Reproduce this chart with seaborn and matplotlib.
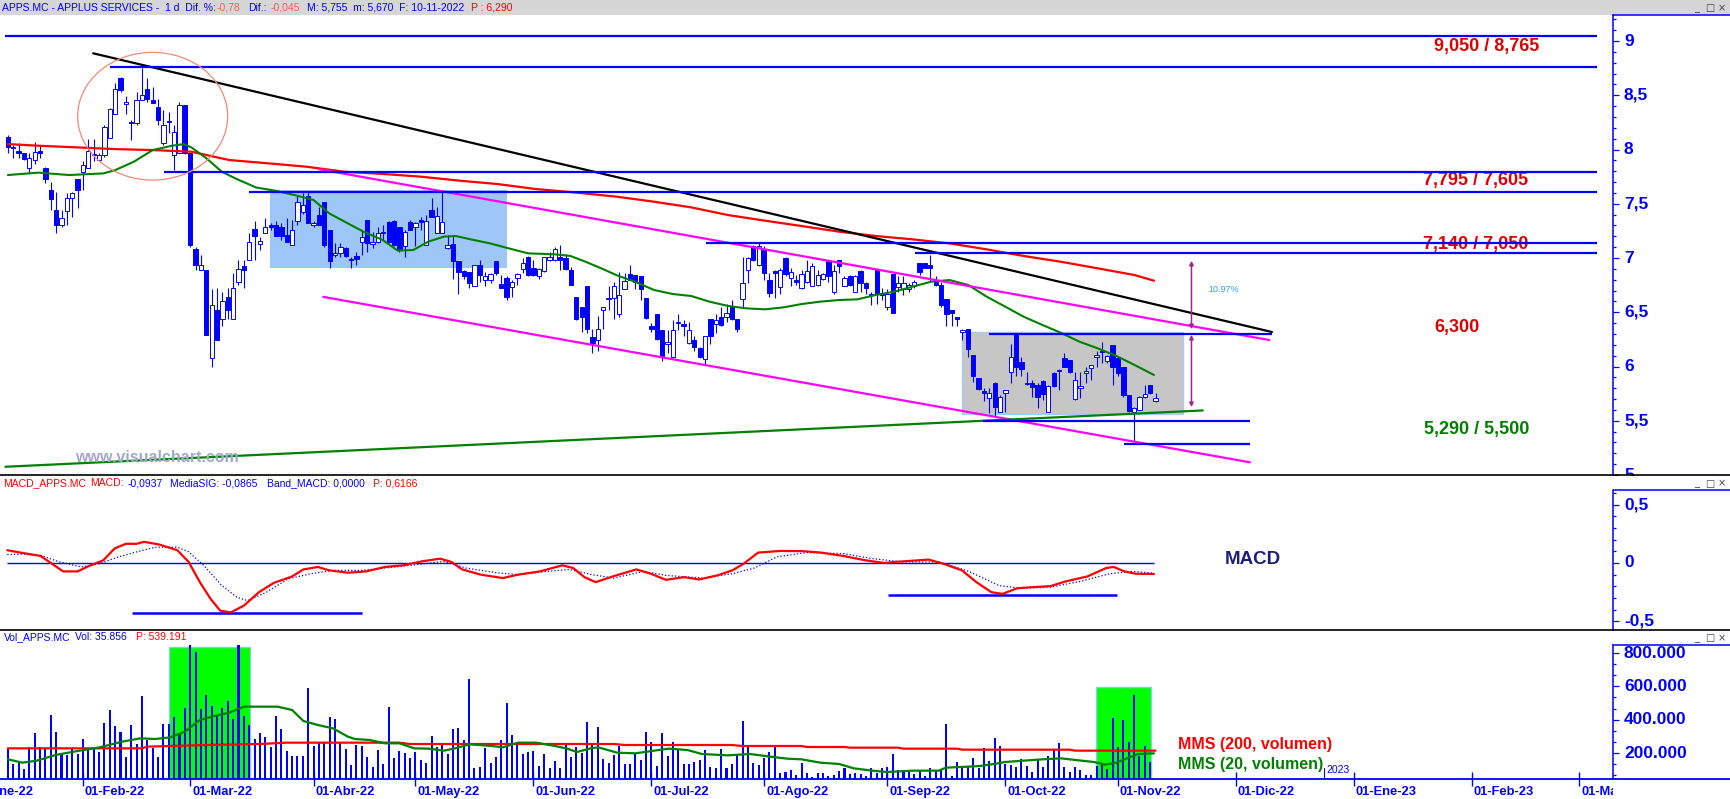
import numpy as np
import pandas as pd
import matplotlib
matplotlib.use("Agg")
import matplotlib.pyplot as plt
from matplotlib.patches import Rectangle, Ellipse
from matplotlib.lines import Line2D
from matplotlib.ticker import MultipleLocator
import seaborn as sns

sns.set_theme(style="white")
plt.rcParams['font.family'] = ['Liberation Sans', 'DejaVu Sans']

# ---------------- DATA ----------------
opens = [8.12, 8.02, 7.99, 7.97, 7.83, 7.90, 7.99, 7.83, 7.63, 7.44,
         7.30, 7.43, 7.55, 7.73, 7.79, 7.83, 7.96, 7.90, 7.95, 8.11,
         8.33, 8.66, 8.42, 8.25, 8.24, 8.46, 8.56, 8.46, 8.39, 8.06,
         8.25, 7.95, 7.97, 8.41, 7.97, 7.08, 6.89, 6.89, 6.08, 6.52,
         6.44, 6.64, 6.44, 6.78, 6.93, 6.98, 7.27, 7.13, 7.23, 7.30,
         7.30, 7.29, 7.21, 7.12, 7.34, 7.42, 7.57, 7.30, 7.40, 7.52,
         7.26, 7.03, 7.05, 7.09, 6.99, 7.02, 7.15, 7.35, 7.13, 7.15,
         7.23, 7.33, 7.34, 7.29, 7.11, 7.33, 7.29, 7.35, 7.12, 7.44,
         7.23, 7.23, 7.09, 7.13, 6.97, 6.88, 6.87, 6.74, 6.94, 6.80,
         6.80, 6.97, 6.76, 6.82, 6.73, 6.82, 6.90, 7.01, 6.91, 6.83,
         6.88, 6.98, 6.98, 7.01, 7.00, 6.89, 6.64, 6.55, 6.74, 6.27,
         6.24, 6.52, 6.62, 6.63, 6.48, 6.71, 6.85, 6.84, 6.83, 6.63,
         6.37, 6.48, 6.34, 6.21, 6.09, 6.40, 6.39, 6.22, 6.24, 6.17,
         6.07, 6.44, 6.39, 6.46, 6.46, 6.56, 6.44, 6.62, 6.89, 7.11,
         6.94, 7.07, 6.80, 6.88, 6.73, 7.00, 6.82, 6.80, 6.72, 6.78,
         6.74, 6.75, 6.81, 6.97, 6.69, 6.98, 6.74, 6.83, 6.69, 6.88,
         6.77, 6.66, 6.89, 6.67, 6.55, 6.85, 6.73, 6.71, 6.71, 6.74,
         6.95, 6.95, 6.94, 6.78, 6.75, 6.62, 6.52, 6.45, 6.32, 6.35,
         6.11, 5.89, 5.77, 5.71, 5.85, 5.58, 5.76, 5.95, 6.30, 6.04,
         5.84, 5.85, 5.83, 5.87, 5.58, 5.94, 5.96, 6.08, 6.06, 5.70,
         5.80, 5.94, 5.99, 6.09, 6.14, 6.05, 6.20, 6.08, 6.00, 5.74,
         5.58, 5.60, 5.72, 5.83, 5.68]
highs = [8.13, 8.04, 8.06, 7.97, 7.97, 8.07, 8.04, 7.84, 7.70, 7.61,
         7.44, 7.60, 7.61, 7.73, 7.89, 8.10, 8.10, 7.97, 8.23, 8.38,
         8.61, 8.67, 8.49, 8.27, 8.53, 8.75, 8.66, 8.58, 8.47, 8.36,
         8.35, 8.23, 8.44, 8.41, 7.97, 7.10, 7.03, 6.89, 6.71, 6.72,
         6.69, 6.72, 6.86, 6.98, 6.98, 7.23, 7.34, 7.19, 7.37, 7.32,
         7.34, 7.32, 7.37, 7.35, 7.57, 7.60, 7.61, 7.34, 7.47, 7.52,
         7.26, 7.14, 7.14, 7.10, 7.01, 7.06, 7.26, 7.35, 7.24, 7.29,
         7.30, 7.34, 7.35, 7.29, 7.26, 7.35, 7.33, 7.38, 7.40, 7.55,
         7.47, 7.61, 7.21, 7.21, 6.97, 6.89, 6.87, 6.94, 6.98, 6.87,
         6.86, 6.97, 6.84, 6.83, 6.80, 6.86, 7.00, 7.02, 6.98, 6.91,
         7.01, 7.06, 7.10, 7.12, 7.04, 6.92, 6.64, 6.55, 6.74, 6.35,
         6.47, 6.55, 6.74, 6.78, 6.87, 6.86, 6.94, 6.84, 6.83, 6.63,
         6.40, 6.48, 6.34, 6.34, 6.43, 6.48, 6.43, 6.41, 6.28, 6.18,
         6.28, 6.44, 6.48, 6.55, 6.58, 6.61, 6.44, 7.01, 7.01, 7.12,
         7.14, 7.11, 6.86, 6.89, 6.91, 7.01, 6.91, 6.84, 6.89, 6.98,
         6.95, 6.89, 6.86, 6.98, 6.94, 6.98, 6.83, 6.84, 6.84, 6.89,
         6.78, 6.69, 6.89, 6.72, 6.71, 6.86, 6.83, 6.83, 6.77, 6.80,
         6.95, 6.95, 7.03, 6.83, 6.78, 6.62, 6.52, 6.46, 6.35, 6.35,
         6.11, 5.89, 5.80, 5.80, 5.86, 5.74, 5.78, 6.21, 6.30, 6.09,
         5.95, 5.88, 5.85, 5.88, 5.83, 5.95, 5.98, 6.12, 6.06, 5.95,
         5.95, 6.00, 6.01, 6.14, 6.23, 6.11, 6.20, 6.09, 6.00, 5.74,
         5.63, 5.73, 5.83, 5.83, 5.755]
lows = [7.97, 7.92, 7.92, 7.90, 7.78, 7.87, 7.92, 7.69, 7.44, 7.23,
        7.29, 7.30, 7.38, 7.46, 7.63, 7.83, 7.89, 7.90, 7.93, 8.11,
        8.33, 8.53, 8.33, 8.09, 8.23, 8.46, 8.44, 8.43, 8.23, 8.04,
        8.15, 7.81, 7.97, 7.96, 7.10, 6.89, 6.89, 6.29, 6.00, 6.24,
        6.37, 6.44, 6.44, 6.75, 6.72, 6.98, 6.98, 7.07, 7.23, 7.26,
        7.20, 7.17, 7.15, 7.12, 7.30, 7.41, 7.32, 7.29, 7.30, 7.10,
        6.91, 7.01, 7.01, 7.01, 6.91, 6.94, 7.03, 7.06, 7.09, 7.14,
        7.17, 7.14, 7.11, 7.06, 7.01, 7.26, 7.11, 7.26, 7.12, 7.38,
        7.23, 7.23, 7.08, 6.81, 6.67, 6.81, 6.72, 6.74, 6.78, 6.74,
        6.77, 6.84, 6.72, 6.61, 6.64, 6.75, 6.86, 6.83, 6.83, 6.81,
        6.87, 6.97, 6.97, 6.89, 6.89, 6.75, 6.43, 6.32, 6.31, 6.12,
        6.14, 6.35, 6.52, 6.44, 6.46, 6.71, 6.80, 6.71, 6.61, 6.44,
        6.32, 6.24, 6.05, 6.12, 6.08, 6.34, 6.28, 6.21, 6.14, 6.08,
        6.01, 6.21, 6.31, 6.37, 6.41, 6.43, 6.32, 6.54, 6.77, 6.97,
        6.93, 6.80, 6.64, 6.63, 6.67, 6.83, 6.74, 6.75, 6.71, 6.77,
        6.74, 6.74, 6.80, 6.78, 6.67, 6.86, 6.74, 6.74, 6.69, 6.69,
        6.67, 6.57, 6.58, 6.61, 6.52, 6.49, 6.69, 6.66, 6.69, 6.72,
        6.84, 6.91, 6.78, 6.74, 6.55, 6.37, 6.37, 6.37, 6.24, 6.09,
        5.86, 5.78, 5.68, 5.57, 5.54, 5.58, 5.58, 5.85, 5.91, 5.91,
        5.83, 5.72, 5.62, 5.69, 5.58, 5.81, 5.78, 6.00, 5.94, 5.69,
        5.71, 5.85, 5.88, 6.00, 6.03, 6.03, 5.83, 5.91, 5.72, 5.58,
        5.31, 5.60, 5.71, 5.75, 5.67]
closes = [8.02, 8.01, 7.97, 7.91, 7.92, 7.98, 7.97, 7.73, 7.54, 7.30,
          7.37, 7.55, 7.60, 7.63, 7.86, 7.99, 7.95, 7.95, 8.21, 8.37,
          8.56, 8.55, 8.44, 8.24, 8.46, 8.50, 8.47, 8.43, 8.27, 8.23,
          8.26, 8.16, 8.41, 7.97, 7.12, 6.94, 6.94, 6.29, 6.57, 6.24,
          6.60, 6.52, 6.72, 6.90, 6.89, 7.15, 7.20, 7.16, 7.29, 7.29,
          7.20, 7.20, 7.15, 7.26, 7.52, 7.49, 7.32, 7.32, 7.30, 7.12,
          6.97, 7.05, 7.10, 7.02, 6.98, 6.99, 7.19, 7.14, 7.15, 7.23,
          7.24, 7.15, 7.12, 7.07, 7.24, 7.26, 7.32, 7.33, 7.34, 7.38,
          7.39, 7.33, 7.12, 6.97, 6.87, 6.83, 6.77, 6.94, 6.84, 6.83,
          6.85, 6.86, 6.72, 6.64, 6.78, 6.85, 6.95, 6.84, 6.84, 6.90,
          7.01, 7.01, 7.08, 6.98, 6.90, 6.75, 6.44, 6.46, 6.35, 6.22,
          6.35, 6.55, 6.63, 6.74, 6.66, 6.79, 6.80, 6.78, 6.71, 6.45,
          6.35, 6.25, 6.09, 6.22, 6.34, 6.41, 6.37, 6.34, 6.18, 6.09,
          6.28, 6.28, 6.43, 6.38, 6.49, 6.44, 6.35, 6.77, 7.00, 6.98,
          7.11, 6.86, 6.68, 6.86, 6.89, 6.85, 6.87, 6.78, 6.85, 6.88,
          6.93, 6.84, 6.85, 6.83, 6.88, 6.93, 6.82, 6.75, 6.83, 6.77,
          6.72, 6.66, 6.67, 6.66, 6.67, 6.49, 6.77, 6.77, 6.75, 6.78,
          6.87, 6.91, 6.91, 6.75, 6.57, 6.48, 6.49, 6.44, 6.34, 6.16,
          5.91, 5.79, 5.76, 5.76, 5.63, 5.72, 5.78, 6.09, 6.00, 5.98,
          5.84, 5.81, 5.72, 5.75, 5.82, 5.82, 5.97, 6.00, 5.95, 5.88,
          5.82, 5.96, 6.01, 6.10, 6.13, 6.10, 6.00, 5.94, 5.74, 5.59,
          5.62, 5.72, 5.75, 5.755, 5.71]
# daily volume, thousands of shares
vol_k = [222, 134, 138, 102, 234, 318, 234, 228, 428, 326,
         198, 188, 228, 194, 284, 218, 228, 208, 378, 458,
         362, 328, 178, 368, 254, 542, 278, 228, 174, 372,
         372, 414, 318, 468, 870, 808, 462, 548, 482, 422,
         468, 512, 402, 870, 422, 368, 284, 318, 298, 238,
         422, 342, 214, 182, 182, 182, 588, 242, 258, 258,
         414, 402, 258, 222, 128, 248, 242, 178, 118, 218,
         134, 474, 168, 214, 198, 168, 208, 158, 138, 302,
         234, 248, 194, 342, 348, 278, 642, 112, 118, 232,
         138, 174, 278, 498, 308, 248, 194, 208, 214, 122,
         194, 108, 152, 108, 254, 178, 234, 202, 386, 248,
         354, 164, 138, 188, 242, 134, 134, 194, 158, 326,
         266, 122, 320, 182, 266, 218, 134, 134, 146, 158,
         218, 114, 110, 224, 110, 134, 192, 392, 242, 140,
         128, 170, 206, 238, 80, 86, 98, 68, 140, 80,
         56, 80, 80, 62, 68, 92, 110, 74, 80, 74,
         62, 110, 80, 110, 116, 194, 98, 98, 98, 74,
         92, 62, 110, 92, 98, 374, 62, 146, 122, 116,
         170, 110, 230, 152, 290, 242, 134, 128, 116, 164,
         122, 86, 164, 116, 182, 218, 260, 116, 86, 116,
         98, 68, 68, 122, 128, 104, 410, 236, 398, 266,
         548, 182, 242, 146, 35.856]

# moving averages (x = trading-day index)
ma20_idx = [0, 5.7, 11.4, 17.8, 20, 23.5, 27, 30.6, 32.8, 34.2, 37, 39.9, 42.8, 46.3, 49.9, 53.5,
            57, 59.9, 62.8, 66.3, 69.9, 72.7, 75.6, 78.4, 81.3, 83.5, 86.3, 89.9, 93.4, 97, 102,
            104.9, 107.7, 110.4, 113.6, 117, 120.5, 124, 127.4, 130.8, 134.3, 137.7, 141.2, 144.6,
            148.05, 151.5, 155, 158.4, 161.8, 165.3, 168.7, 172.2, 175.6, 179.1, 182.5, 186, 189.4,
            192.9, 196.3, 199.8, 203.2, 206.7, 210.1, 213.7]
ma20_val = [7.765, 7.787, 7.765, 7.78, 7.81, 7.888, 7.995, 8.035, 8.05, 8.02, 7.92, 7.795, 7.725,
            7.65, 7.62, 7.58, 7.535, 7.412, 7.335, 7.243, 7.166, 7.068, 7.074, 7.151, 7.197, 7.203,
            7.172, 7.135, 7.089, 7.043, 7.034, 7.019, 6.966, 6.91, 6.84, 6.78, 6.705, 6.668, 6.65,
            6.598, 6.558, 6.536, 6.527, 6.545, 6.576, 6.598, 6.613, 6.619, 6.659, 6.69, 6.736, 6.782,
            6.797, 6.751, 6.644, 6.551, 6.459, 6.383, 6.312, 6.229, 6.168, 6.097, 6.014, 5.922]
ma200_idx = [0, 5.7, 12.8, 20, 27, 34.2, 41.3, 48.5, 55.6, 62.8, 69.9, 77, 84.2, 91.3, 98.4, 105.6,
             113.6, 120.5, 127.4, 134.3, 141.2, 148, 155, 161.8, 168.7, 175.6, 182.5, 189.4, 196.3,
             203.2, 210.1, 213.7]
ma200_val = [8.05, 8.035, 8.02, 8.004, 7.995, 7.98, 7.903, 7.873, 7.842, 7.795, 7.775, 7.75, 7.713,
             7.682, 7.636, 7.605, 7.565, 7.519, 7.467, 7.396, 7.344, 7.295, 7.243, 7.203, 7.172,
             7.135, 7.08, 7.019, 6.966, 6.905, 6.843, 6.791]

macd_idx = [-0.1, 2.7, 6.1, 8.2, 10.3, 13.0, 15.1, 17.8, 19.9, 22.0, 24.0, 25.4, 28.2, 31.6, 33.7,
            35.8, 37.8, 39.6, 41.6, 44.0, 46.8, 49.6, 53.0, 55.1, 57.8, 59.9, 63.4, 66.8, 70.3, 73.7,
            77.2, 80.6, 82.7, 84.7, 88.2, 92.3, 95.1, 99.2, 103.4, 105.4, 107.5, 109.6, 113.0, 117.2,
            119.9, 122.7, 126.1, 128.9, 132.3, 135.1, 137.2, 139.9, 144.1, 148.2, 151.6, 155.8, 159.9,
            163.4, 165.4, 171.7, 174.4, 177.9, 180.6, 183.4, 185.5, 188.2, 191.0, 194.4, 197.2, 201.3,
            204.8, 206.2, 208.2, 210.3, 213.7]
macd_val = [0.109, 0.086, 0.06, -0.006, -0.072, -0.072, -0.026, 0.023, 0.124, 0.164, 0.164, 0.181,
            0.158, 0.109, 0.009, -0.164, -0.307, -0.408, -0.422, -0.365, -0.25, -0.17, -0.115,
            -0.055, -0.034, -0.063, -0.083, -0.072, -0.034, -0.02, 0.014, 0.037, 0.009, -0.055, -0.1,
            -0.129, -0.1, -0.072, -0.02, -0.043, -0.121, -0.164, -0.112, -0.055, -0.092, -0.144,
            -0.121, -0.141, -0.106, -0.063, -0.006, 0.089, 0.103, 0.101, 0.089, 0.06, 0.023, 0.0,
            0.009, 0.029, -0.006, -0.063, -0.164, -0.25, -0.264, -0.216, -0.207, -0.198, -0.158,
            -0.115, -0.043, -0.034, -0.072, -0.092, -0.094]
sig_idx = [-0.1, 2.7, 6.1, 9.6, 13.7, 17.1, 20.6, 24.0, 27.5, 31.6, 33.7, 36.5, 39.9, 42.7, 44.7,
           48.2, 52.3, 56.5, 60.6, 66.1, 70.3, 75.1, 81.3, 85.4, 91.0, 95.1, 100.6, 104.7, 108.9,
           113.0, 118.5, 122.7, 129.6, 135.1, 139.2, 143.4, 148.9, 155.8, 161.3, 166.8, 173.7, 179.2,
           184.8, 188.9, 194.4, 199.9, 205.4, 209.6, 213.7]
sig_val = [0.072, 0.075, 0.066, 0.009, -0.034, -0.006, 0.052, 0.095, 0.135, 0.135, 0.095, -0.02,
           -0.193, -0.293, -0.322, -0.25, -0.135, -0.092, -0.063, -0.063, -0.043, -0.02, 0.014,
           -0.043, -0.083, -0.1, -0.072, -0.055, -0.1, -0.129, -0.072, -0.106, -0.129, -0.092,
           -0.043, 0.052, 0.089, 0.08, 0.037, 0.009, 0.009, -0.072, -0.193, -0.216, -0.207, -0.158,
           -0.092, -0.072, -0.0865]

vma20_idx = [0.0, 2.7, 5.4, 8.9, 12.3, 17.1, 21.3, 24.7, 27.5, 30.3, 33.0, 35.8, 38.5, 41.3, 44.0,
             50.3, 53.0, 55.1, 57.8, 60.6, 63.4, 64.7, 67.5, 70.3, 73.0, 75.8, 78.5, 81.3, 83.4, 86.1,
             90.3, 92.3, 95.1, 98.5, 102.0, 104.1, 106.1, 108.7, 110.1, 113.6, 117.0, 120.5, 123.2,
             126.7, 129.4, 134.2, 138.4, 141.2, 145.3, 148.0, 151.5, 155.0, 157.7, 161.2, 163.9,
             168.7, 173.6, 174.9, 179.1, 181.2, 183.9, 185.9, 189.4, 192.9, 196.3, 199.1, 202.5,
             204.6, 206.7, 208.7, 210.8, 213.7]
vma20_k = [162, 142, 154, 188, 208, 234, 268, 288, 284, 294, 328, 398, 422, 442, 478, 478, 458, 392,
           368, 348, 298, 284, 278, 258, 258, 228, 226, 214, 228, 252, 242, 234, 262, 262, 242, 228,
           206, 228, 234, 202, 198, 214, 226, 218, 194, 186, 194, 182, 166, 162, 142, 134, 108, 94,
           86, 94, 94, 112, 118, 122, 134, 146, 154, 162, 168, 158, 146, 130, 142, 168, 194, 198]
vma200_idx = [0, 25, 26, 37, 47, 52, 73, 75, 113, 115, 135, 137, 148, 149, 156, 157, 166, 167, 177,
              178, 198, 199, 214]
vma200_k = [228, 228, 238, 248, 254, 262, 262, 254, 254, 248, 248, 242, 242, 236, 236, 232, 232,
            226, 226, 220, 220, 214, 214]

# drawn objects (x = trading-day index, y = price)
hlevels = [9.05, 8.765, 7.795, 7.605, 7.14, 7.05, 6.30, 5.50, 5.29]
hstart = [-0.5, 19.0, 29.1, 45.0, 130.2, 169.1, 183.0, 181.8, 208.1]
hend = [296.4, 296.4, 296.4, 296.4, 296.4, 296.4, 235.7, 231.6, 231.6]
trend_black = ([15.9, 235.7], [8.887, 6.318])
chan_upper = ([58.1, 235.2], [7.818, 6.244])
chan_lower = ([58.8, 231.6], [6.642, 5.117])
trend_green = ([-0.45, 222.8], [5.076, 5.595])
level_labels = ["9,050 / 8,765", "7,795 / 7,605", "7,140 / 7,050", "6,300", "5,290 / 5,500"]
level_label_y = [8.954, 7.719, 7.120, 6.364, 5.415]
level_label_colors = ["#E00000", "#E00000", "#E00000", "#E00000", "#008000"]

MONTHS_ES = ['Ene', 'Feb', 'Mar', 'Abr', 'May', 'Jun', 'Jul', 'Ago', 'Sep', 'Oct', 'Nov', 'Dic']

# ---------------- LAYOUT ----------------
W, H = 1730, 799
BLUE = '#0000FF'
fig = plt.figure(figsize=(W / 100, H / 100), dpi=100)
fig.patch.set_facecolor('white')


def fr(x0, y0, x1, y1):
    return [x0 / W, 1 - y1 / H, (x1 - x0) / W, (y1 - y0) / H]


def ftext(x, y, s, **kw):
    return fig.text(x / W, 1 - y / H, s, **kw)


def fline(x0, x1, y0, y1, **kw):
    fig.add_artist(Line2D([x0 / W, x1 / W], [1 - y0 / H, 1 - y1 / H],
                          transform=fig.transFigure, **kw))


ax_p = fig.add_axes(fr(0, 15, 1613, 475))
ax_m = fig.add_axes(fr(0, 490, 1613, 630))
ax_v = fig.add_axes(fr(0, 645, 1613, 779))
ax_d = fig.add_axes(fr(0, 779, 1613, 799))

XMIN, XMAX = -1.47, 299.3

# trading calendar (positions of month labels)
holidays = pd.to_datetime(['2022-04-15', '2022-04-18'])
days = pd.bdate_range('2022-01-03', '2023-03-31')
days = days[~days.isin(holidays)]
start = days.get_loc(pd.Timestamp('2022-01-12'))
dpos = np.arange(len(days)) - start
ddf = pd.DataFrame({'d': days, 'p': dpos})
firsts = ddf.groupby([ddf.d.dt.year, ddf.d.dt.month]).first()
month_pos = list(firsts.p.values)
month_lab = [f"01-{MONTHS_ES[d.month - 1]}-{d.strftime('%y')}" for d in firsts.d]

n = min(len(opens), len(highs), len(lows), len(closes))
o = np.array(opens[:n]); h = np.array(highs[:n]); l = np.array(lows[:n]); c = np.array(closes[:n])
x = np.arange(n)
up = c >= o


def style(ax):
    for s in ['top', 'left', 'bottom']:
        ax.spines[s].set_visible(False)
    ax.spines['right'].set_color(BLUE)
    ax.spines['right'].set_linewidth(1.1)
    ax.yaxis.tick_right()
    ax.tick_params(axis='y', which='major', direction='out', length=4.3, width=0.9,
                   colors=BLUE, labelright=False, labelleft=False, left=False)
    ax.tick_params(axis='y', which='minor', direction='out', length=2.2, width=0.9,
                   colors=BLUE, left=False)
    ax.set_facecolor('white')
    ax.grid(False)
    ax.set_xlabel('')
    ax.set_ylabel('')


def ylabels(ax, vals, fmt, fs=12.5):
    tr = ax.get_yaxis_transform()
    for v in vals:
        ax.text(1 + 11 / 1613, v, fmt(v), transform=tr, ha='left', va='center', color=BLUE,
                fontsize=fs, fontweight='bold', clip_on=False)


# ---------------- PRICE PANEL ----------------
ax_p.add_patch(Rectangle((48.9, 6.911), 44.2, 0.716, facecolor='#9EC6F6', edgecolor='none', zorder=1))
ax_p.add_patch(Rectangle((177.9, 5.562), 41.2, 0.756, facecolor='#C6C6C6', edgecolor='#A8CCEE',
                         lw=1, zorder=1))
ax_p.vlines(x, l, h, color=BLUE, lw=0.8, zorder=3)
ax_p.bar(x, np.maximum(np.abs(c - o), 0.012), bottom=np.minimum(o, c), width=0.8,
         color=np.where(up, 'white', BLUE), edgecolor=BLUE, linewidth=0.7, zorder=4)

sns.lineplot(x=ma200_idx, y=ma200_val, ax=ax_p, color='#FF0000', linewidth=1.6, zorder=5)
sns.lineplot(x=ma20_idx, y=ma20_val, ax=ax_p, color='#008000', linewidth=1.5, zorder=5)
for xs, ys, col in [(trend_black[0], trend_black[1], 'black'),
                    (chan_upper[0], chan_upper[1], '#FF00FF'),
                    (chan_lower[0], chan_lower[1], '#FF00FF'),
                    (trend_green[0], trend_green[1], '#008000')]:
    sns.lineplot(x=xs, y=ys, ax=ax_p, color=col, linewidth=1.6, zorder=5)
ax_p.hlines(hlevels, hstart, hend, color=BLUE, lw=1.6, zorder=6)

ax_p.add_patch(Ellipse((27.0, 8.307), 27.97, 1.177, facecolor='none', edgecolor='#F08A78', lw=0.9,
                       zorder=6))
PURP = '#9C2A8C'
ax_p.annotate('', xy=(220.7, 7.0), xytext=(220.7, 6.318),
              arrowprops=dict(arrowstyle='<|-|>', color=PURP, lw=1.1, mutation_scale=6), zorder=7)
ax_p.annotate('', xy=(220.7, 5.6), xytext=(220.7, 6.318),
              arrowprops=dict(arrowstyle='<|-|>', color=PURP, lw=1.1, mutation_scale=6), zorder=7)
ax_p.text(223.8, 6.714, '10.97%', color='#3399FF', fontsize=6.5, va='center', ha='left')
ax_p.text(12.5, 5.157, 'www.visualchart.com', color='#A0A8CC', fontsize=11.5, fontweight='bold',
          va='center', ha='left', zorder=8)
lab_x = [265.9, 263.9, 263.9, 265.9, 264.1]
for s, yy, col, xx in zip(level_labels, level_label_y, level_label_colors, lab_x):
    ax_p.text(xx, yy, s, color=col, fontsize=13, fontweight='bold', va='center', ha='left')

style(ax_p)
ax_p.set_ylim(5.0, 9.24)
ax_p.set_xticks([])
ax_p.set_xlim(XMIN, XMAX)
ax_p.yaxis.set_major_locator(MultipleLocator(0.5))
ax_p.yaxis.set_minor_locator(MultipleLocator(0.1))
ylabels(ax_p, [5.0, 5.5, 6.0, 6.5, 7.0, 7.5, 8.0, 8.5, 9.0],
        lambda v: f"{v:g}".replace('.', ','))

# ---------------- MACD PANEL ----------------
ax_m.hlines(0, -0.1, 213.7, color=BLUE, lw=1.0, zorder=2)
ax_m.hlines([-0.428, -0.273], [23.1, 164.1], [66.0, 206.8], color=BLUE, lw=1.8, zorder=2)
sns.lineplot(x=sig_idx, y=sig_val, ax=ax_m, color=BLUE, linewidth=0.9, linestyle=':', zorder=3)
sns.lineplot(x=macd_idx, y=macd_val, ax=ax_m, color='#FF0000', linewidth=1.6, zorder=4)
style(ax_m)
ax_m.set_ylim(-0.573, 0.624)
ax_m.set_xticks([])
ax_m.set_xlim(XMIN, XMAX)
ax_m.yaxis.set_major_locator(MultipleLocator(0.5))
ax_m.yaxis.set_minor_locator(MultipleLocator(0.1))
ylabels(ax_m, [-0.5, 0.0, 0.5], lambda v: f"{v:g}".replace('.', ','))
ftext(1225, 559, 'MACD', color='#1E1E78', fontsize=13.5, fontweight='bold', va='center', ha='left')

# ---------------- VOLUME PANEL ----------------
ax_v.add_patch(Rectangle((30.1, 0), 15.0, 836000, facecolor='#00FF00', edgecolor='#90C8F0', lw=1,
                         zorder=1))
ax_v.add_patch(Rectangle((202.9, 0), 10.2, 594000, facecolor='#00FF00', edgecolor='#90C8F0', lw=1,
                         zorder=1))
vols = np.array(vol_k[:n]) * 1000
ax_v.bar(np.arange(len(vols)), vols, width=0.38, color=BLUE, linewidth=0, zorder=3)
sns.lineplot(x=vma200_idx, y=np.array(vma200_k) * 1000, ax=ax_v, color='#FF0000', linewidth=1.6,
             zorder=4)
sns.lineplot(x=vma20_idx, y=np.array(vma20_k) * 1000, ax=ax_v, color='#008000', linewidth=1.6,
             zorder=4)
style(ax_v)
ax_v.set_ylim(44000, 848000)
ax_v.yaxis.set_major_locator(MultipleLocator(200000))
ax_v.yaxis.set_minor_locator(MultipleLocator(200000 / 3))
ax_v.set_xticks([p for p in month_pos if XMIN <= p <= XMAX])
ax_v.set_xlim(XMIN, XMAX)
ax_v.tick_params(axis='x', which='major', direction='inout', length=10, width=1, colors=BLUE,
                 labelbottom=False, bottom=True)
ylabels(ax_v, [200000, 400000, 600000, 800000], lambda v: f"{int(round(v)):,}".replace(',', '.'))
ftext(1178, 744, 'MMS (200, volumen)', color='#FF0000', fontsize=11.5, fontweight='bold', va='center')
ftext(1178, 764, 'MMS (20, volumen)', color='#008000', fontsize=11.5, fontweight='bold', va='center')
ftext(1326, 770, '2023', color=BLUE, fontsize=7.5, va='center', ha='left')
fline(1324, 1324, 768, 779, color=BLUE, lw=0.8)

# date labels
ax_d.set_xlim(XMIN, XMAX)
ax_d.set_ylim(0, 1)
ax_d.axis('off')
for p, s in zip(month_pos, month_lab):
    ax_d.text(p + 0.37, 0.33, s, color=BLUE, fontsize=9.3, fontweight='bold', va='center',
              ha='left', clip_on=True)

# ---------------- FRAME / HEADERS ----------------
fig.add_artist(Rectangle((0, 1 - 15 / H), 1, 15 / H, transform=fig.transFigure,
                         facecolor='#D6D6D6', edgecolor='none', zorder=0))
fig.add_artist(Rectangle((0, 1 - 490 / H), 1, 14 / H, transform=fig.transFigure,
                         facecolor='white', edgecolor='none', zorder=10))
fline(0, W, 475, 475, color='black', lw=1.2, zorder=11)
fline(0, W, 630, 630, color='black', lw=1.2, zorder=11)
for yy in (15, 490, 645):
    fline(1613, W, yy, yy, color=BLUE, lw=1.1, zorder=11)
fline(0, W, 779, 779, color=BLUE, lw=1.3, zorder=11)


def header(y, segs):
    for xx, s, col in segs:
        ftext(xx, y, s, color=col, fontsize=7.5, va='center', ha='left', zorder=12)


SAL = '#FF5A5A'
header(8, [(2, 'APPS.MC - APPLUS SERVICES -  1 d  Dif. %:', BLUE), (217, '-0,78', SAL),
           (248, 'Dif.:', BLUE), (271, '-0,045', SAL),
           (307, 'M: 5,755  m: 5,670  F: 10-11-2022', BLUE), (471, 'P : 6,290', '#FF0000')])
header(483.5, [(3.6, 'MACD_APPS.MC', '#FF0000'), (90.6, 'MACD:', '#FF0000'), (128, '-0,0937', BLUE),
               (170, 'MediaSIG: -0,0865', BLUE), (267, 'Band_MACD: 0,0000', BLUE),
               (373, 'P: 0,6166', '#FF0000')])
header(637.5, [(3.6, 'Vol_APPS.MC', BLUE), (75, 'Vol: 35.856', BLUE), (136, 'P: 539.191', '#FF0000')])

for yy in (8, 483.5, 638):
    for xx, g in ((1697, '_'), (1710, '□'), (1722, '×')):
        ftext(xx, yy, g, color='#404040', fontsize=7, va='center', ha='center',
              family=['DejaVu Sans'], zorder=12)

fig.savefig('out.png', dpi=100, facecolor='white')
